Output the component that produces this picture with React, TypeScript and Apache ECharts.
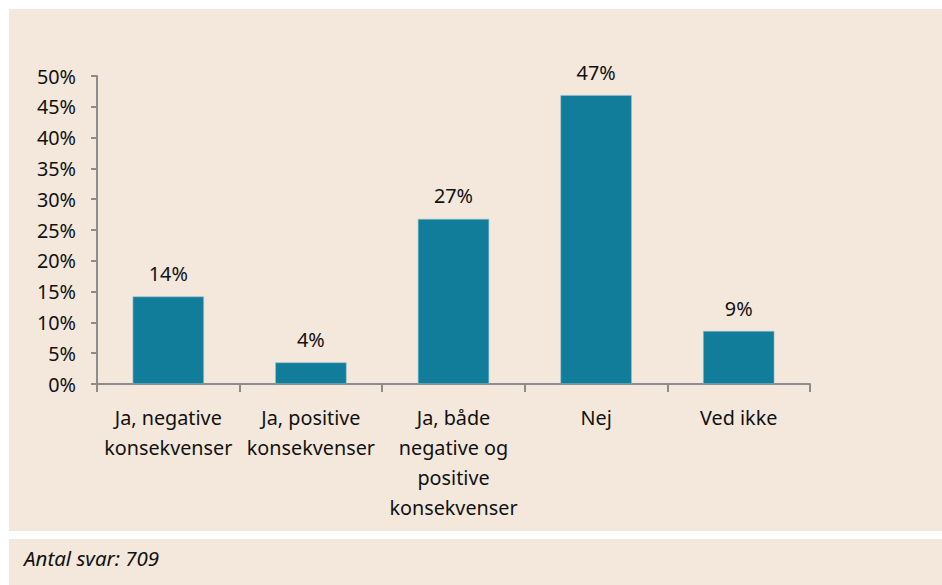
import React, { useEffect, useRef } from "react";
import * as echarts from "echarts";

const categories = [
  "Ja, negative\nkonsekvenser",
  "Ja, positive\nkonsekvenser",
  "Ja, både\nnegative og\npositive\nkonsekvenser",
  "Nej",
  "Ved ikke",
];
const values = [14.2, 3.5, 26.8, 46.9, 8.6];
const yTicks = { min: 0, max: 50, interval: 5 };
const footnote = "Antal svar: 709";

const FONT = "'Noto Sans', 'Open Sans', sans-serif";
const BG = "#F4E8DC";
const BAR = "#117D9A";
const AXIS = "#8C8C8C";
const TXT = "#111111";

export default function App() {
  const ref = useRef<HTMLDivElement>(null);
  useEffect(() => {
    if (!ref.current) return;
    const chart = echarts.init(ref.current, undefined, { renderer: "svg" });
    chart.setOption({
      animation: false,
      backgroundColor: "#ffffff",
      textStyle: { fontFamily: FONT },
      graphic: [
        { type: "rect", z: -10, silent: true, shape: { x: 9, y: 9, width: 933, height: 522 }, style: { fill: BG } },
        { type: "rect", z: -10, silent: true, shape: { x: 9, y: 539, width: 933, height: 46 }, style: { fill: BG } },
        {
          type: "text",
          left: 24,
          top: 548,
          style: { text: footnote, font: `italic 20.5px ${FONT}`, fill: TXT },
        },
      ],
      grid: { left: 97, right: 132, top: 76, bottom: 201, containLabel: false },
      xAxis: {
        type: "category",
        data: categories,
        axisLine: { lineStyle: { color: AXIS, width: 2 } },
        axisTick: { show: true, length: 8, alignWithLabel: false, lineStyle: { color: AXIS, width: 2 } },
        axisLabel: { color: TXT, fontSize: 19.8, lineHeight: 30, margin: 18, fontFamily: FONT, interval: 0 },
      },
      yAxis: {
        type: "value",
        min: yTicks.min,
        max: yTicks.max,
        interval: yTicks.interval,
        axisLine: { show: true, lineStyle: { color: AXIS, width: 2 } },
        axisTick: { show: true, length: 6, lineStyle: { color: AXIS, width: 2 } },
        splitLine: { show: false },
        axisLabel: { color: TXT, fontSize: 19.8, margin: 21, fontFamily: FONT, formatter: (v: number) => `${v}%` },
      },
      series: [
        {
          type: "bar",
          data: values,
          barWidth: "50%",
          itemStyle: { color: BAR, borderColor: "#8FC0CE", borderWidth: 0.6 },
          label: {
            show: true,
            position: "top",
            distance: 13,
            color: TXT,
            fontSize: 19.8,
            fontFamily: FONT,
            formatter: (p: any) => `${Math.round(p.value)}%`,
          },
        },
      ],
    });
    return () => chart.dispose();
  }, []);
  return (
    <div style={{ position: "fixed", left: 0, top: 0, width: 942, height: 585 }}>
      <div ref={ref} style={{ width: 942, height: 585 }} />
    </div>
  );
}
